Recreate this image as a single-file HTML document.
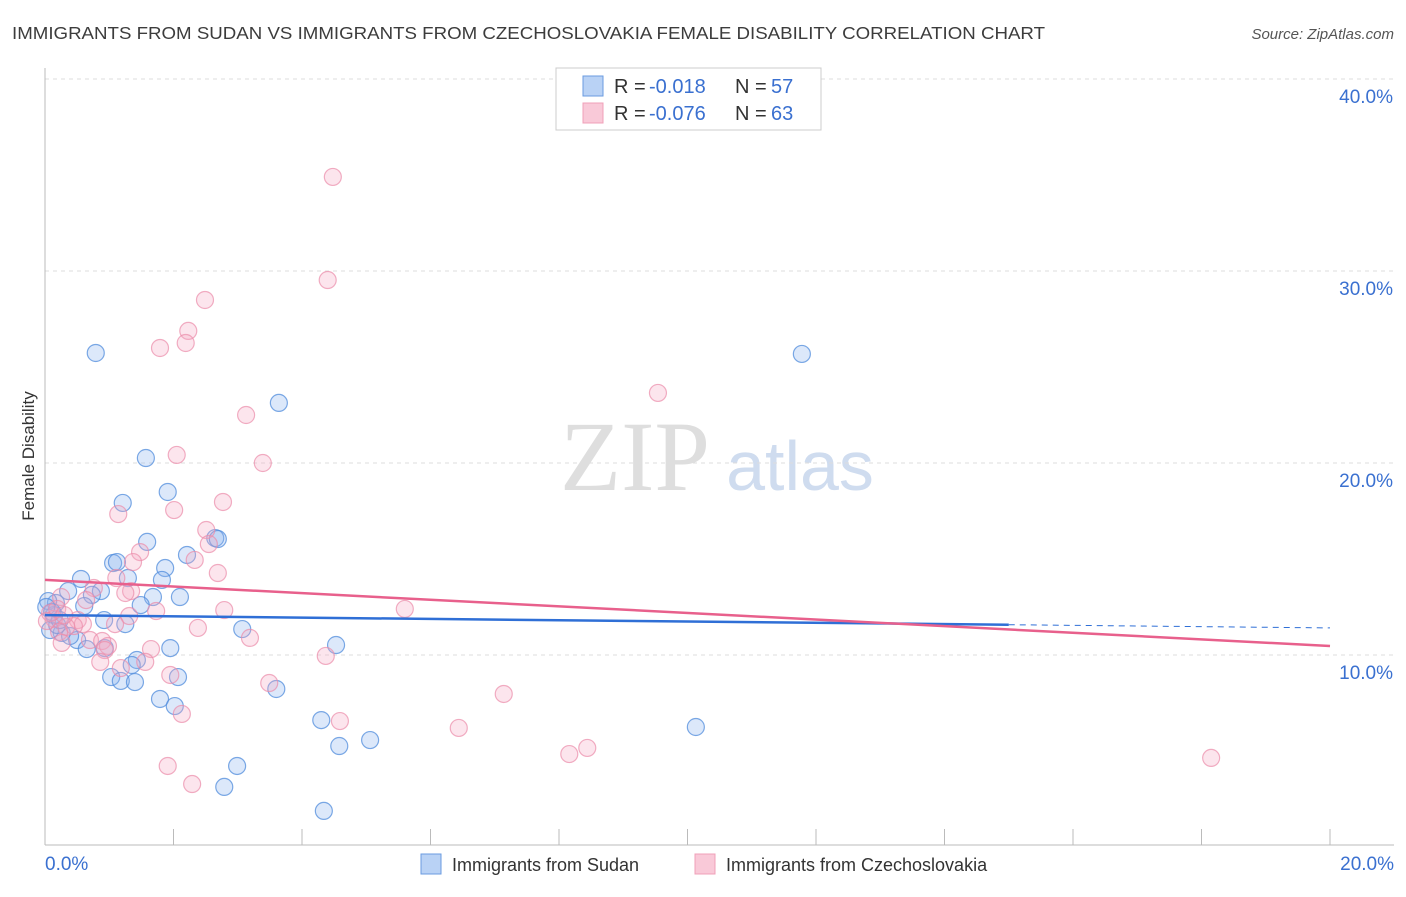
<!DOCTYPE html>
<html><head><meta charset="utf-8"><style>
body{margin:0;background:#fff;font-family:"Liberation Sans",sans-serif}
</style></head><body>
<svg id="chart" width="1406" height="892" xmlns="http://www.w3.org/2000/svg" font-family="Liberation Sans, sans-serif">
<text x="12" y="39" font-size="17.5" fill="#3c3c3c" textLength="1033" lengthAdjust="spacingAndGlyphs">IMMIGRANTS FROM SUDAN VS IMMIGRANTS FROM CZECHOSLOVAKIA FEMALE DISABILITY CORRELATION CHART</text>
<text x="1394" y="39" font-size="15" fill="#555" font-style="italic" text-anchor="end">Source: ZipAtlas.com</text>
<text transform="translate(34,456) rotate(-90)" font-size="17" fill="#333" text-anchor="middle">Female Disability</text>
<g><text x="635" y="490" font-size="100" font-family="Liberation Serif, serif" fill="#dedede" text-anchor="middle">ZIP</text><text x="800" y="490" font-size="70" fill="#cfdcef" text-anchor="middle">atlas</text></g>
<g id="grid"></g><g id="axes"></g><g id="marks"></g>
<g>
<rect x="556" y="68" width="265" height="62" fill="#fff" stroke="#ccc"/>
<rect x="583" y="76" width="20" height="20" fill="#b9d2f5" stroke="#6a9be0"/>
<rect x="583" y="103" width="20" height="20" fill="#f9c9d8" stroke="#f0a0b8"/>
<text x="614" y="93" font-size="20" fill="#333">R =</text><text x="649" y="93" font-size="20" fill="#3a70d0">-0.018</text>
<text x="735" y="93" font-size="20" fill="#333">N =</text><text x="771" y="93" font-size="20" fill="#3a70d0">57</text>
<text x="614" y="120" font-size="20" fill="#333">R =</text><text x="649" y="120" font-size="20" fill="#3a70d0">-0.076</text>
<text x="735" y="120" font-size="20" fill="#333">N =</text><text x="771" y="120" font-size="20" fill="#3a70d0">63</text>
</g>
<g>
<rect x="421" y="854" width="20" height="20" fill="#b9d2f5" stroke="#6a9be0"/>
<text x="452" y="871" font-size="18" fill="#333">Immigrants from Sudan</text>
<rect x="695" y="854" width="20" height="20" fill="#f9c9d8" stroke="#f0a0b8"/>
<text x="726" y="871" font-size="18" fill="#333">Immigrants from Czechoslovakia</text>
</g>
</svg>
<script>
const yTicks=[10,20,30,40];
const yTickLabels=["10.0%","20.0%","30.0%","40.0%"];
const xTickLabels=["0.0%","20.0%"];
const sudanX=[0.79,11.78,3.64,1.57,1.91,1.21,1.59,2.21,2.65,2.69,1.06,1.12,1.87,1.29,0.56,1.82,0.87,0.36,0.73,2.10,1.68,1.49,0.61,0.17,0.05,0.14,0.92,1.25,3.07,0.26,0.50,0.93,0.65,1.95,4.53,1.43,1.35,1.03,2.07,1.18,1.40,3.60,1.79,2.02,4.30,10.13,4.58,5.06,2.99,2.79,4.34,0.08,0.19,0.39,0.11,0.23,0.02];
const sudanY=[25.73,25.68,23.13,20.26,18.49,17.92,15.89,15.21,16.09,16.04,14.79,14.84,14.53,14.01,13.96,13.91,13.33,13.33,13.13,13.02,13.02,12.60,12.55,12.71,12.81,12.08,11.82,11.61,11.35,11.15,10.78,10.36,10.31,10.36,10.52,9.74,9.48,8.85,8.85,8.65,8.59,8.23,7.71,7.34,6.61,6.25,5.26,5.57,4.22,3.13,1.88,11.30,11.56,10.99,12.24,11.82,12.50];
const czX=[4.48,4.40,2.49,2.23,1.79,2.19,9.54,3.13,2.05,3.39,2.77,1.14,2.01,2.51,2.55,1.48,2.33,1.37,2.69,1.11,0.76,1.34,1.25,0.25,1.73,2.79,5.60,1.31,0.51,0.59,0.45,0.14,0.33,0.22,2.38,3.19,0.70,0.26,0.89,0.98,0.93,1.65,4.37,0.86,1.56,1.18,1.95,3.49,7.14,2.13,4.59,6.44,8.16,8.44,1.91,2.29,18.15,0.08,0.03,0.19,0.30,0.64,1.09];
const czY=[34.90,29.53,28.49,26.88,25.99,26.25,23.65,22.50,20.42,20.00,17.97,17.34,17.55,16.51,15.78,15.36,14.95,14.84,14.27,14.01,13.49,13.33,13.23,13.02,12.29,12.34,12.40,12.03,11.82,11.61,11.51,11.88,11.46,11.20,11.41,10.89,10.78,10.63,10.73,10.47,10.26,10.31,9.95,9.64,9.64,9.32,8.96,8.54,7.97,6.93,6.56,6.20,4.84,5.16,4.22,3.28,4.64,12.19,11.77,12.40,12.08,12.86,11.61];
const sudanTrend=[12.08,11.41];
const czTrend=[13.91,10.47];
const NS="http://www.w3.org/2000/svg";
const xs=v=>45+v/20*1285, ys=v=>847-v*19.2;
function mk(t,p,a){const e=document.createElementNS(NS,t);for(const k in a)e.setAttribute(k,a[k]);p.appendChild(e);return e;}
const grid=document.getElementById('grid'),axes=document.getElementById('axes'),marks=document.getElementById('marks');
yTicks.forEach((t,i)=>{
 const l=mk('line',grid,{x1:45,x2:1394,y1:ys(t),y2:ys(t),stroke:'#ddd','stroke-dasharray':'4,4'});
 
 
 const tx=mk('text',axes,{x:1393,y:ys(t)+24,'font-size':19,fill:'#3a70d0','text-anchor':'end'});tx.textContent=yTickLabels[i];
 
 
});
const ax=mk('line',axes,{x1:45,x2:45,y1:68,y2:845,stroke:'#bbb'});


const bx=mk('line',axes,{x1:45,x2:1394,y1:845,y2:845,stroke:'#bbb'});


for(let i=0;i<=10;i++){const t=mk('line',axes,{x1:xs(i*2),x2:xs(i*2),y1:829,y2:845,stroke:'#bbb'});
 
 }
[[0,'start',45],[20,'end',1394]].forEach((d,i)=>{const t=mk('text',axes,{x:d[2],y:870,'font-size':19,fill:'#3a70d0','text-anchor':d[1]});t.textContent=xTickLabels[i];
 
 });
function pts(X,Y,fill,stroke,name){X.forEach((x,i)=>{const c=mk('circle',marks,{cx:xs(x),cy:ys(Y[i]),r:8.5,fill:fill,stroke:stroke,'stroke-width':1.2});
 
 });}
pts(sudanX,sudanY,'rgba(140,180,240,0.3)','rgba(80,140,220,0.75)','sudan-point');
pts(czX,czY,'rgba(245,170,195,0.3)','rgba(235,140,170,0.7)','czechoslovakia-point');
const sy=v=>sudanTrend[0]+(sudanTrend[1]-sudanTrend[0])*v/20;
const l1=mk('line',marks,{x1:xs(0),y1:ys(sy(0)),x2:xs(15),y2:ys(sy(15)),stroke:'#2f6fd6','stroke-width':2.5});


const l2=mk('line',marks,{x1:xs(15),y1:ys(sy(15)),x2:xs(20),y2:ys(sy(20)),stroke:'#2f6fd6','stroke-width':1,'stroke-dasharray':'6,5'});


const l3=mk('line',marks,{x1:xs(0),y1:ys(czTrend[0]),x2:xs(20),y2:ys(czTrend[1]),stroke:'#e8608c','stroke-width':2.5});


</script>
</body></html>
